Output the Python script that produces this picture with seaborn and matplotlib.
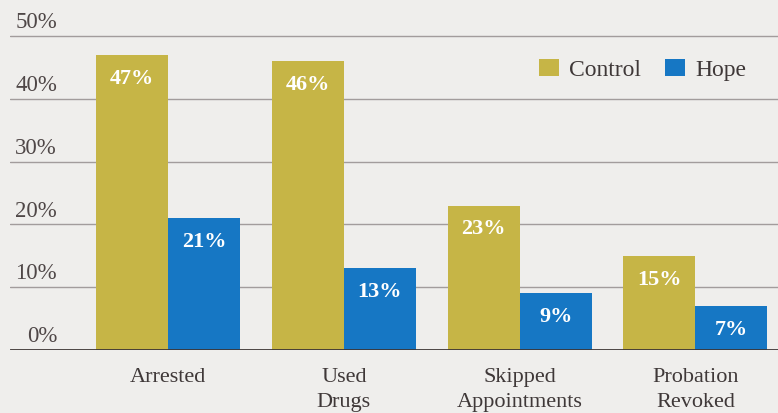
import matplotlib
matplotlib.use("Agg")
import matplotlib.pyplot as plt
import matplotlib.transforms as mtransforms
import seaborn as sns
import pandas as pd

# Outcome categories and rates for each group
categories = ["Arrested", "Used\nDrugs", "Skipped\nAppointments", "Probation\nRevoked"]
control = [47, 46, 23, 15]
hope = [21, 13, 9, 7]
groups = ["Control", "Hope"]
y_ticks = [0, 10, 20, 30, 40, 50]
y_tick_labels = ["0%", "10%", "20%", "30%", "40%", "50%"]

colors = {"Control": "#c6b546", "Hope": "#1677c4"}
bg = "#efeeec"

df = pd.DataFrame({
    "category": categories * 2,
    "group": ["Control"] * len(categories) + ["Hope"] * len(categories),
    "value": control + hope,
})

sns.set_theme(style="white")
plt.rcParams["font.family"] = ["Liberation Serif", "DejaVu Serif"]

W, H = 778, 413
fig = plt.figure(figsize=(W / 100, H / 100), dpi=100, facecolor=bg)
ax_left, ax_right = 10, 778
ax_bottom_px, ax_top_px = 350, 36 - 6.28 * 1.0
ax = fig.add_axes([ax_left / W, 1 - ax_bottom_px / H,
                   (ax_right - ax_left) / W, (ax_bottom_px - ax_top_px) / H])
ax.set_facecolor(bg)

sns.barplot(data=df, x="category", y="value", hue="group", palette=colors,
            hue_order=groups, order=categories, width=0.82, saturation=1,
            edgecolor="none", linewidth=0, ax=ax, zorder=3)

ax.set_xlim(-0.9, 3.47)
ax.set_ylim(0, 51)

# gridlines behind the bars, darker baseline
for t in y_ticks[1:]:
    ax.axhline(t, color="#a29c9c", lw=1.0, zorder=1)
ax.axhline(0, color="#3d3535", lw=2.0, zorder=4)

for s in ax.spines.values():
    s.set_visible(False)
ax.set_yticks([])
ax.set_xlabel("")
ax.set_ylabel("")
ax.tick_params(axis="x", length=0, pad=13, labelsize=16, colors="#3f3838")
for lab in ax.get_xticklabels():
    lab.set_linespacing(1.45)

# y tick labels sit just above their gridlines
trans = mtransforms.blended_transform_factory(ax.transAxes, ax.transData)
for t, lab in zip(y_ticks, y_tick_labels):
    ax.annotate(lab, xy=((57 - ax_left) / (ax_right - ax_left), t), xycoords=trans,
                xytext=(0, 2), textcoords="offset points", ha="right", va="bottom",
                fontsize=16.5, color="#4f4747", annotation_clip=False)

# value labels inside the top of each bar
for container in ax.containers:
    for bar in container:
        h = bar.get_height()
        ax.annotate(f"{h:.0f}%", xy=(bar.get_x() + bar.get_width() / 2, h),
                    xytext=(0, -10), textcoords="offset points", ha="center", va="top",
                    fontsize=16, fontweight="bold", color="white", zorder=5)

handles, labels = ax.get_legend_handles_labels()
ax.legend(handles, labels, loc="upper right", bbox_to_anchor=(0.987, 0.975), ncol=2,
          frameon=False, fontsize=17, handlelength=0.85, handleheight=0.7,
          handletextpad=0.45, columnspacing=1.0, labelcolor="#3f3838")

fig.savefig("out.png", dpi=100, facecolor=bg)
